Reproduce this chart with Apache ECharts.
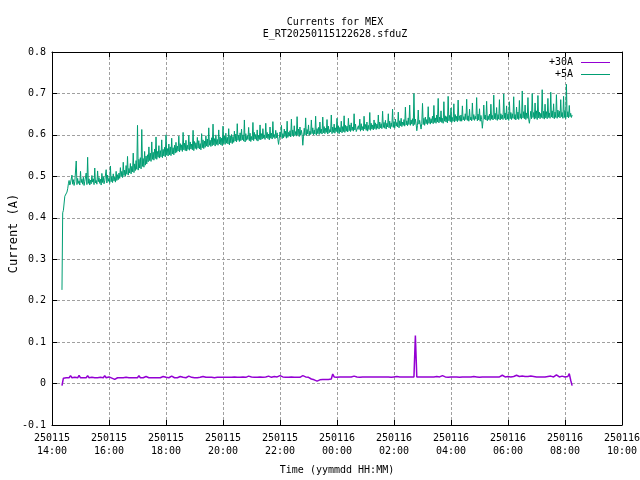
<!DOCTYPE html>
<html><head><meta charset="utf-8">
<script src="https://cdn.jsdelivr.net/npm/echarts@6/dist/echarts.min.js"></script>
<style>html,body{margin:0;padding:0;background:#fff}#c{width:640px;height:480px}</style>
</head><body><div id="c"></div>
<script>
const titleLines = ['Currents for MEX', 'E_RT20250115122628.sfduZ'];
const seriesNames = ['+30A', '+5A'];
const xAxisTitle = 'Time (yymmdd HH:MM)';
const yAxisTitle = 'Current (A)';
const xTickLabels = ['250115\n14:00','250115\n16:00','250115\n18:00','250115\n20:00','250115\n22:00','250116\n00:00','250116\n02:00','250116\n04:00','250116\n06:00','250116\n08:00','250116\n10:00'];
const yTickLabels = ['-0.1','0','0.1','0.2','0.3','0.4','0.5','0.6','0.7','0.8'];
// sample times, hours after 250115 14:00
const startHour = 0.35;
const step30AHour = 0.05;
const step5AHour = 0.025;

const current30A = [
-0.005,0.013,0.014,0.014,0.015,0.014,0.019,0.014,0.014,0.015,0.014,0.014,0.020,0.014,0.015,0.014,0.014,0.014,0.019,0.014,
0.014,0.015,0.014,0.014,0.018,0.014,0.014,0.015,0.014,0.014,0.019,0.014,0.015,0.016,0.014,0.013,0.011,0.010,0.012,0.014,
0.014,0.014,0.017,0.014,0.014,0.015,0.014,0.014,0.018,0.014,0.015,0.014,0.014,0.014,0.019,0.014,0.015,0.014,0.014,0.017,
0.014,0.014,0.015,0.014,0.018,0.014,0.014,0.014,0.015,0.014,0.014,0.017,0.014,0.015,0.014,0.014,0.014,0.018,0.014,0.014,
0.015,0.014,0.014,0.017,0.014,0.015,0.014,0.014,0.014,0.018,0.014,0.015,0.014,0.014,0.016,0.014,0.014,0.015,0.014,0.017,
0.015,0.015,0.014,0.015,0.018,0.015,0.015,0.014,0.015,0.015,0.017,0.015,0.015,0.015,0.014,0.015,0.019,0.015,0.015,0.015,
0.015,0.016,0.015,0.015,0.018,0.015,0.015,0.016,0.015,0.015,0.015,0.018,0.015,0.016,0.015,0.015,0.017,0.015,0.015,0.016,
0.016,0.015,0.017,0.016,0.015,0.018,0.016,0.015,0.016,0.017,0.015,0.016,0.015,0.019,0.015,0.016,0.015,0.015,0.017,0.015,
0.015,0.016,0.015,0.015,0.018,0.015,0.016,0.015,0.015,0.019,0.015,0.016,0.015,0.015,0.013,0.011,0.010,0.009,0.010,0.006,
0.010,0.009,0.010,0.010,0.009,0.010,0.011,0.010,0.010,0.011,0.023,0.016,0.016,0.015,0.016,0.016,0.017,0.016,0.016,0.016,
0.016,0.016,0.015,0.016,0.016,0.018,0.016,0.016,0.016,0.015,0.016,0.016,0.019,0.016,0.016,0.016,0.017,0.016,0.015,0.016,
0.016,0.016,0.018,0.016,0.016,0.016,0.015,0.016,0.020,0.016,0.016,0.015,0.016,0.016,0.016,0.017,0.016,0.016,0.014,0.016,
0.016,0.016,0.015,0.016,0.016,0.016,0.017,0.016,0.116,0.016,0.016,0.016,0.015,0.016,0.017,0.016,0.016,0.016,0.018,0.016,
0.016,0.016,0.016,0.017,0.016,0.016,0.016,0.019,0.016,0.016,0.016,0.015,0.016,0.016,0.017,0.016,0.016,0.016,0.016,0.015,
0.016,0.016,0.016,0.016,0.015,0.016,0.016,0.016,0.016,0.017,0.016,0.016,0.016,0.015,0.016,0.016,0.016,0.016,0.016,0.016,
0.016,0.016,0.017,0.016,0.016,0.016,0.016,0.016,0.016,0.020,0.016,0.016,0.016,0.017,0.016,0.016,0.016,0.017,0.016,0.020,
0.016,0.017,0.016,0.018,0.016,0.017,0.020,0.017,0.016,0.018,0.016,0.017,0.019,0.016,0.017,0.016,0.018,0.016,0.017,0.016,
0.017,0.017,0.016,0.018,0.017,0.016,0.017,0.021,0.017,0.016,0.017,0.018,0.017,0.016,0.017,0.017,0.024,0.008,-0.005
];

const current5A = [
0.226,0.412,0.418,0.421,0.452,0.455,0.456,0.462,0.470,0.482,0.490,0.479,0.484,0.486,0.503,0.481,0.492,0.478,0.487,0.484,
0.537,0.480,0.495,0.483,0.489,0.479,0.512,0.485,0.493,0.481,0.498,0.478,0.488,0.484,0.508,0.480,0.546,0.483,0.494,0.479,
0.491,0.482,0.502,0.486,0.494,0.480,0.520,0.484,0.490,0.481,0.513,0.487,0.497,0.483,0.493,0.479,0.507,0.485,0.499,0.482,
0.489,0.486,0.516,0.484,0.503,0.488,0.495,0.483,0.525,0.487,0.500,0.485,0.506,0.489,0.498,0.486,0.512,0.490,0.504,0.492,
0.508,0.495,0.521,0.499,0.512,0.497,0.534,0.502,0.515,0.500,0.526,0.505,0.548,0.503,0.519,0.508,0.531,0.506,0.524,0.511,
0.556,0.509,0.530,0.514,0.538,0.517,0.623,0.515,0.541,0.520,0.545,0.518,0.613,0.524,0.543,0.522,0.560,0.527,0.549,0.530,
0.552,0.535,0.571,0.538,0.556,0.536,0.583,0.541,0.558,0.539,0.566,0.543,0.595,0.541,0.560,0.546,0.574,0.544,0.562,0.547,
0.588,0.545,0.565,0.549,0.570,0.547,0.600,0.551,0.567,0.549,0.578,0.552,0.571,0.550,0.592,0.554,0.569,0.552,0.575,0.556,
0.582,0.558,0.573,0.561,0.597,0.559,0.579,0.563,0.576,0.560,0.606,0.564,0.580,0.562,0.587,0.561,0.575,0.565,0.599,0.563,
0.583,0.566,0.578,0.564,0.611,0.562,0.584,0.567,0.581,0.565,0.594,0.568,0.586,0.566,0.579,0.564,0.603,0.569,0.588,0.567,
0.585,0.570,0.598,0.573,0.590,0.571,0.617,0.575,0.587,0.572,0.593,0.574,0.626,0.576,0.591,0.573,0.600,0.577,0.589,0.575,
0.612,0.578,0.595,0.576,0.592,0.574,0.621,0.579,0.597,0.577,0.604,0.580,0.594,0.578,0.615,0.576,0.598,0.581,0.601,0.579,
0.596,0.582,0.609,0.585,0.602,0.583,0.627,0.587,0.599,0.584,0.605,0.586,0.614,0.588,0.600,0.585,0.636,0.583,0.603,0.587,
0.598,0.589,0.618,0.586,0.604,0.584,0.596,0.588,0.630,0.586,0.606,0.590,0.601,0.587,0.612,0.585,0.599,0.589,0.624,0.588,
0.603,0.590,0.615,0.592,0.600,0.589,0.628,0.593,0.606,0.591,0.602,0.588,0.619,0.592,0.604,0.590,0.632,0.594,0.601,0.591,
0.611,0.593,0.605,0.589,0.577,0.592,0.607,0.595,0.623,0.591,0.603,0.593,0.614,0.596,0.609,0.592,0.633,0.594,0.606,0.597,
0.610,0.595,0.638,0.598,0.612,0.596,0.622,0.599,0.608,0.597,0.644,0.600,0.614,0.596,0.619,0.599,0.611,0.601,0.575,0.597,
0.616,0.600,0.641,0.598,0.613,0.602,0.624,0.599,0.609,0.601,0.636,0.603,0.617,0.600,0.612,0.602,0.645,0.599,0.615,0.603,
0.618,0.601,0.631,0.604,0.614,0.602,0.643,0.605,0.620,0.603,0.616,0.606,0.637,0.602,0.621,0.605,0.613,0.607,0.648,0.603,
0.619,0.606,0.626,0.604,0.617,0.608,0.640,0.605,0.622,0.603,0.618,0.607,0.633,0.605,0.620,0.608,0.646,0.606,0.623,0.609,
0.621,0.607,0.640,0.610,0.624,0.608,0.629,0.611,0.619,0.609,0.651,0.612,0.626,0.608,0.606,0.611,0.622,0.613,0.638,0.609,
0.627,0.612,0.620,0.610,0.645,0.614,0.625,0.611,0.631,0.609,0.623,0.613,0.654,0.611,0.628,0.614,0.624,0.612,0.636,0.615,
0.629,0.613,0.626,0.616,0.648,0.614,0.631,0.617,0.627,0.615,0.657,0.618,0.630,0.616,0.635,0.614,0.628,0.619,0.651,0.617,
0.633,0.615,0.629,0.620,0.662,0.618,0.632,0.616,0.638,0.621,0.630,0.619,0.655,0.617,0.634,0.622,0.640,0.620,0.631,0.623,
0.637,0.621,0.667,0.624,0.634,0.622,0.641,0.625,0.672,0.623,0.636,0.626,0.639,0.622,0.700,0.625,0.638,0.627,0.610,0.623,
0.660,0.626,0.635,0.624,0.614,0.628,0.676,0.625,0.640,0.623,0.643,0.627,0.637,0.625,0.668,0.628,0.642,0.626,0.639,0.629,
0.645,0.627,0.671,0.630,0.641,0.628,0.648,0.631,0.688,0.629,0.643,0.632,0.658,0.630,0.640,0.628,0.680,0.633,0.646,0.631,
0.644,0.629,0.693,0.634,0.647,0.632,0.665,0.630,0.642,0.633,0.675,0.631,0.649,0.634,0.645,0.632,0.684,0.635,0.646,0.633,
0.648,0.633,0.670,0.636,0.644,0.634,0.651,0.637,0.686,0.635,0.646,0.633,0.662,0.636,0.643,0.634,0.677,0.637,0.649,0.635,
0.645,0.638,0.690,0.634,0.650,0.636,0.663,0.633,0.647,0.637,0.616,0.635,0.672,0.638,0.648,0.636,0.681,0.634,0.646,0.637,
0.650,0.635,0.674,0.638,0.647,0.636,0.696,0.639,0.652,0.637,0.666,0.635,0.649,0.638,0.685,0.636,0.651,0.639,0.648,0.637,
0.699,0.640,0.653,0.636,0.670,0.638,0.650,0.635,0.680,0.639,0.654,0.637,0.651,0.640,0.692,0.638,0.649,0.636,0.667,0.639,
0.655,0.637,0.683,0.640,0.651,0.638,0.706,0.641,0.656,0.639,0.672,0.637,0.653,0.640,0.690,0.638,0.628,0.641,0.657,0.639,
0.700,0.642,0.654,0.638,0.677,0.640,0.658,0.637,0.695,0.641,0.655,0.639,0.652,0.642,0.709,0.640,0.657,0.638,0.674,0.641,
0.656,0.639,0.688,0.642,0.653,0.640,0.703,0.643,0.658,0.641,0.675,0.639,0.655,0.642,0.697,0.640,0.660,0.643,0.657,0.641,
0.685,0.644,0.654,0.640,0.693,0.642,0.659,0.639,0.722,0.643,0.656,0.641,0.671,0.644,0.652,0.642,0.648
];

const seriesColors = ['#9400D3', '#009E73'];
const FONT = '"DejaVu Sans Mono", "Liberation Mono", monospace';

function toPairs(arr, step) {
  return arr.map((v, i) => [startHour + i * step, v]);
}

const txt = { fontFamily: FONT, fontSize: 10, color: '#000', fontWeight: 'normal' };
const gridLine = { show: true, lineStyle: { color: '#a0a0a0', type: [3, 2], width: 1 } };
const axLine = { show: true, onZero: false, lineStyle: { color: '#000', width: 1 } };
const axTick = { show: true, inside: true, length: 5, lineStyle: { color: '#000', width: 1 } };
const legendCommon = { orient: 'vertical', right: 30, align: 'right', padding: 0, icon: 'rect',
  itemWidth: 29, itemHeight: 1, textStyle: Object.assign({}, txt, { padding: [0, 3, 0, 0] }) };

const chart = echarts.init(document.getElementById('c'), null, { renderer: 'canvas' });
chart.setOption({
  animation: false,
  backgroundColor: '#ffffff',
  title: {
    text: titleLines.join('\n'),
    left: 335, top: 16, textAlign: 'center', padding: 0,
    textStyle: Object.assign({}, txt, { lineHeight: 12.5 })
  },
  grid: { left: 52, top: 52, width: 570, height: 373, show: false, outerBoundsMode: 'none', containLabel: false },
  legend: [
    Object.assign({ data: [seriesNames[0]], top: 57.5 }, legendCommon),
    Object.assign({ data: [seriesNames[1]], top: 69.5 }, legendCommon)
  ],
  xAxis: [
    { type: 'value', min: 0, max: 20, interval: 2, position: 'bottom',
      axisLine: axLine, axisTick: axTick, splitLine: gridLine,
      axisLabel: Object.assign({}, txt, { margin: 7, lineHeight: 13,
        formatter: v => xTickLabels[Math.round(v / 2)] }),
      name: xAxisTitle, nameLocation: 'middle', nameGap: 40, nameMoveOverlap: false, nameTextStyle: txt },
    { type: 'value', min: 0, max: 20, interval: 2, position: 'top',
      axisLine: axLine, axisTick: axTick, splitLine: { show: false }, axisLabel: { show: false } }
  ],
  yAxis: [
    { type: 'value', min: -0.1, max: 0.8, interval: 0.1, position: 'left',
      axisLine: axLine, axisTick: axTick, splitLine: gridLine,
      axisLabel: Object.assign({}, txt, { margin: 6,
        formatter: v => yTickLabels[Math.round(v * 10) + 1] }),
      name: yAxisTitle, nameLocation: 'middle', nameGap: 32, nameMoveOverlap: false,
      nameTextStyle: Object.assign({}, txt, { fontSize: 12, padding: [0, 0, 0, 10] }) },
    { type: 'value', min: -0.1, max: 0.8, interval: 0.1, position: 'right',
      axisLine: axLine, axisTick: axTick, splitLine: { show: false }, axisLabel: { show: false } }
  ],
  series: [
    { name: seriesNames[0], type: 'line', data: toPairs(current30A, step30AHour), symbol: 'none',
      lineStyle: { color: seriesColors[0], width: 1.5 }, itemStyle: { color: seriesColors[0] } },
    { name: seriesNames[1], type: 'line', data: toPairs(current5A, step5AHour), symbol: 'none',
      lineStyle: { color: seriesColors[1], width: 1 }, itemStyle: { color: seriesColors[1] } }
  ]
});
</script>
</body></html>
